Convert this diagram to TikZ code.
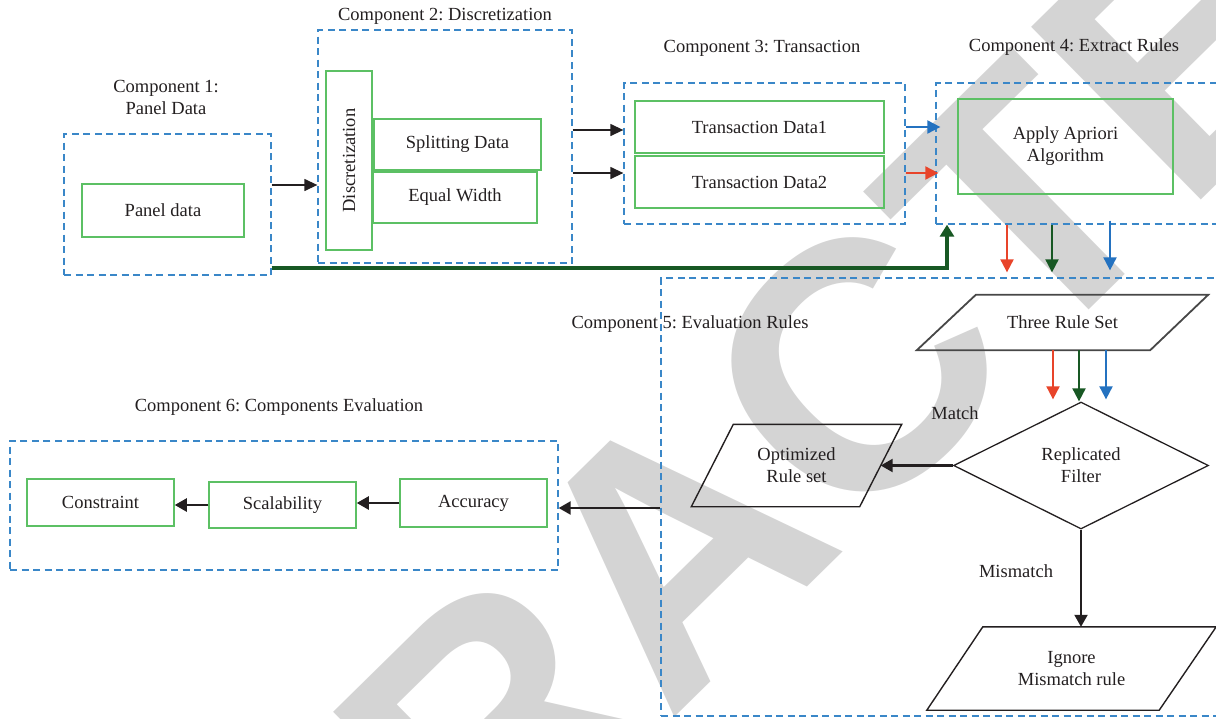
\documentclass[tikz,border=0pt]{standalone}
\usepackage{fontspec}
\setmainfont{Liberation Serif}
\newfontfamily\wmfont{Liberation Sans}
\usetikzlibrary{arrows.meta,shapes.geometric,calc}
\definecolor{dblue}{RGB}{58,135,200}
\definecolor{bgreen}{RGB}{92,192,100}
\definecolor{ared}{RGB}{232,68,42}
\definecolor{ablue}{RGB}{36,114,192}
\definecolor{agreen}{RGB}{24,88,36}
\definecolor{ink}{RGB}{35,31,32}
\definecolor{wm}{RGB}{212,212,212}
\frenchspacing
\begin{document}
\begin{tikzpicture}[x=1pt,y=-1pt,
  comp/.style={draw=dblue, line width=1.3pt, dash pattern=on 7pt off 4.5pt, rectangle, inner sep=0pt},
  gbox/.style={draw=bgreen, line width=1.5pt, rectangle, inner sep=0pt, text=ink, font=\fontsize{18.5}{22}\selectfont, align=center},
  ttl/.style={text=ink, font=\fontsize{18.5}{21.5}\selectfont, align=center, inner sep=0pt},
  ptxt/.style={rectangle, inner sep=0pt, text=ink, font=\fontsize{18.5}{22}\selectfont, align=center},
  pline/.style={draw=ink, line width=1.4pt, line join=miter},
  arr/.style={draw=ink, line width=1.3pt, -{Triangle[length=13pt,width=12pt]}},
  harr/.style={draw=ink, line width=2.3pt, -{Triangle[length=12pt,width=13pt]}},
  carr/.style={line width=2pt, -{Triangle[length=13pt,width=13pt]}},
  wmk/.style={text=wm, inner sep=0pt, font=\wmfont\bfseries\fontsize{352}{352}\selectfont}
]
\useasboundingbox (0,0) rectangle (1216,718);
\clip (0,0) rectangle (1216,718);
% watermark
\node[wmk, rotate=44.5] (wmark) at (674,548) {RETRACTED};

% Component 1
\node[comp, minimum width=207pt, minimum height=141pt] (c1) at (167.5,204.5) {};
\node[gbox, minimum width=162pt, minimum height=53pt] (pd) at (163,210.5) {Panel data};
\node[ttl] (t1) at (166,97.5) {Component 1:\\Panel Data};

% Component 2
\node[comp, minimum width=254pt, minimum height=233pt] (c2) at (445,146.5) {};
\node[gbox, rotate=90, minimum width=179pt, minimum height=46pt] (disc) at (349,160.5) {Discretization};
\node[gbox, minimum width=167pt, minimum height=51pt] (split) at (457.5,144.5) {Splitting Data};
\node[gbox, minimum width=164pt, minimum height=51pt] (eqw) at (455,197.5) {Equal Width};
\node[ttl] (t2) at (445,16) {Component 2: Discretization};

% Component 3
\node[comp, minimum width=281pt, minimum height=141pt] (c3) at (764.5,153.5) {};
\node[gbox, minimum width=249pt, minimum height=52pt] (td1) at (759.5,127) {Transaction Data1};
\node[gbox, minimum width=249pt, minimum height=52pt] (td2) at (759.5,182) {Transaction Data2};
\node[ttl] (t3) at (762,48) {Component 3: Transaction};

% Component 4
\node[comp, minimum width=294pt, minimum height=141pt] (c4) at (1083,153.5) {};
\node[gbox, minimum width=215pt, minimum height=95pt] (apr) at (1065.5,146.5) {Apply Apriori\\Algorithm};
\node[ttl] (t4) at (1074,47) {Component 4: Extract Rules};

% Component 5
\node[comp, minimum width=569pt, minimum height=438pt] (c5) at (945.5,497) {};
\node[ttl] (t5) at (690,324) {Component 5: Evaluation Rules};
\node[ptxt, minimum width=291pt, minimum height=55pt] (trs) at (1062.5,322.5) {Three Rule Set};
\draw[pline, draw=black!72, line width=1.8pt] ([xshift=59pt]trs.north west) -- (trs.north east) -- ([xshift=-58pt]trs.south east) -- (trs.south west) -- cycle;
\node[diamond, draw=ink, line width=1.3pt, inner sep=0pt, aspect=2, minimum width=255pt, minimum height=127pt, text=ink, font=\fontsize{18.5}{22}\selectfont, align=center] (flt) at (1081,465.5) {Replicated\\Filter};
\node[ptxt, minimum width=210pt, minimum height=82pt] (opt) at (796.5,465.5) {Optimized\\Rule set};
\draw[pline] ([xshift=42pt]opt.north west) -- (opt.north east) -- ([xshift=-42pt]opt.south east) -- (opt.south west) -- cycle;
\node[ptxt, minimum width=289pt, minimum height=83pt] (ign) at (1071.5,668.5) {Ignore\\Mismatch rule};
\draw[pline] ([xshift=56pt]ign.north west) -- (ign.north east) -- ([xshift=-57pt]ign.south east) -- (ign.south west) -- cycle;
\node[ttl] (lm) at (955,413) {Match};
\node[ttl] (lmm) at (1016,571) {Mismatch};

% Component 6
\node[comp, minimum width=548pt, minimum height=129pt] (c6) at (284,505.5) {};
\node[gbox, minimum width=147pt, minimum height=47pt] (con) at (100.5,502.5) {Constraint};
\node[gbox, minimum width=147pt, minimum height=46pt] (sca) at (282.5,505) {Scalability};
\node[gbox, minimum width=147pt, minimum height=48pt] (acc) at (473.5,503) {Accuracy};
\node[ttl] (t6) at (279,407) {Component 6: Components Evaluation};

% connectors
\draw[arr] (c1.east |- 0,185) -- (c2.west |- 0,185);
\draw[arr] (c2.east |- 0,130) -- (c3.west |- 0,130);
\draw[arr] (c2.east |- 0,173) -- (c3.west |- 0,173);
\draw[carr, draw=ablue, fill=ablue] (c3.east |- 0,127) -- ([xshift=5pt]c4.west |- 0,127);
\draw[carr, draw=ared, fill=ared] (c3.east |- 0,173) -- ([xshift=3pt]c4.west |- 0,173);
\draw[line width=3.5pt, draw=agreen, -{Triangle[length=12pt,width=14pt]}] (c1.east |- 0,268) -| (c4.south -| 947,0);
\draw[carr, draw=ared, fill=ared] (c4.south -| 1007,0) -- ([yshift=5pt]c5.north -| 1007,0);
\draw[carr, draw=agreen, fill=agreen] (c4.south -| 1052,0) -- ([yshift=5pt]c5.north -| 1052,0);
\draw[carr, draw=ablue, fill=ablue] ([yshift=4pt]c4.south -| 1110,0) -- ([yshift=7pt]c5.north -| 1110,0);
\draw[carr, draw=ared, fill=ared] (trs.south -| 1053,0) -- ([yshift=2pt]flt.north -| 1053,0);
\draw[carr, draw=agreen, fill=agreen] (trs.south -| 1079,0) -- (flt.north -| 1079,0);
\draw[carr, draw=ablue, fill=ablue] (trs.south -| 1106,0) -- ([yshift=2pt]flt.north -| 1106,0);
\draw[harr] (flt.west) -- ([xshift=-21pt]opt.east);
\draw[harr, line width=2pt] (flt.south) -- (flt.south |- ign.north);
\draw[harr] (c5.west |- 0,508) -- (c6.east |- 0,508);
\draw[harr] (acc.west) -- (acc.west -| sca.east);
\draw[harr] (sca.west) -- (sca.west -| con.east);
\end{tikzpicture}
\end{document}
